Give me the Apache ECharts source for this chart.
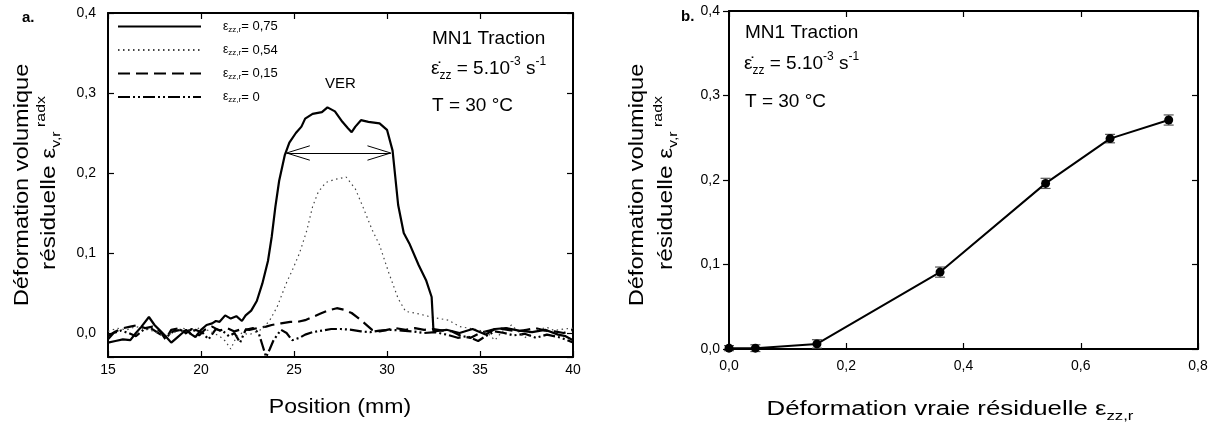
<!DOCTYPE html>
<html><head><meta charset="utf-8">
<script src="https://cdn.jsdelivr.net/npm/echarts@6/dist/echarts.min.js"></script>
<style>html,body{margin:0;padding:0;background:#fff}#c{width:1220px;height:430px}</style>
</head><body><div id="c"></div>
<script>
const FONT = '"Liberation Sans", Arial, Helvetica, sans-serif';

// ---- Panel a : profiles of residual volume strain vs position (mm) ----
const legendLabels = ['0,75', '0,54', '0,15', '0'];
const curve075 = [[15.0,-0.012],[15.4,-0.010],[15.8,-0.008],[16.2,-0.009],[16.5,0.000],[16.8,0.008],[17.2,0.020],[17.5,0.010],[17.8,0.003],[18.1,-0.004],[18.4,-0.012],[18.7,-0.006],[19.0,0.000],[19.2,0.004],[19.5,-0.002],[19.7,-0.005],[20.0,0.004],[20.3,0.010],[20.6,0.012],[20.8,0.015],[21.0,0.014],[21.3,0.022],[21.6,0.018],[21.9,0.021],[22.2,0.015],[22.4,0.022],[22.7,0.028],[23.0,0.040],[23.3,0.062],[23.6,0.090],[23.8,0.120],[24.0,0.158],[24.2,0.190],[24.5,0.222],[24.75,0.238],[25.1,0.250],[25.4,0.258],[25.6,0.268],[26.0,0.274],[26.5,0.276],[26.8,0.282],[27.2,0.277],[27.6,0.264],[27.9,0.256],[28.1,0.251],[28.3,0.258],[28.6,0.266],[29.0,0.264],[29.6,0.262],[30.0,0.254],[30.3,0.228],[30.6,0.160],[30.9,0.125],[31.2,0.112],[31.7,0.085],[32.1,0.066],[32.4,0.045],[32.5,0.002],[33.2,0.004],[33.9,0.000],[34.6,0.005],[35.3,-0.002],[35.8,0.005],[36.4,0.006],[37.1,0.003],[37.8,0.001],[38.5,0.004],[39.2,-0.002],[39.6,-0.004],[40.0,-0.009]];
const curve054 = [[15.0,0.002],[15.5,0.006],[16.0,0.004],[16.5,0.008],[17.0,0.005],[17.5,0.002],[18.0,-0.004],[18.5,0.000],[19.0,0.006],[19.5,0.003],[20.0,0.007],[20.5,0.002],[21.0,-0.004],[21.3,-0.010],[21.6,-0.020],[21.9,-0.005],[22.2,0.000],[22.6,-0.002],[23.0,0.002],[23.3,0.005],[23.7,0.016],[24.1,0.033],[24.6,0.063],[24.9,0.078],[25.3,0.100],[25.7,0.129],[26.0,0.158],[26.3,0.176],[26.7,0.188],[27.2,0.192],[27.8,0.195],[28.3,0.180],[28.7,0.158],[29.2,0.129],[29.6,0.110],[30.1,0.075],[30.6,0.043],[31.0,0.027],[31.7,0.024],[32.2,0.021],[32.6,0.019],[33.3,0.016],[33.9,0.008],[34.4,0.006],[34.9,0.004],[35.4,0.000],[35.8,-0.009],[36.2,0.002],[36.7,0.010],[37.0,0.003],[37.4,-0.006],[37.8,0.000],[38.1,0.004],[38.6,0.007],[39.0,0.003],[39.5,0.005],[40.0,0.006]];
const curve015 = [[15.0,-0.004],[15.4,0.002],[15.8,0.006],[16.2,0.008],[16.6,0.010],[17.0,0.006],[17.4,0.008],[17.8,0.002],[18.1,-0.008],[18.4,0.004],[18.8,0.006],[19.2,0.000],[19.5,0.005],[19.9,-0.003],[20.2,0.004],[20.6,0.008],[21.0,0.003],[21.4,0.006],[21.8,0.002],[22.2,0.005],[22.6,0.004],[23.0,0.006],[23.5,0.008],[23.8,0.010],[24.3,0.012],[24.8,0.014],[25.2,0.014],[25.6,0.016],[26.0,0.020],[26.4,0.024],[26.8,0.028],[27.3,0.031],[27.7,0.029],[28.1,0.025],[28.5,0.018],[28.8,0.012],[29.2,0.004],[29.6,0.002],[30.0,0.004],[30.5,0.006],[31.0,0.004],[31.5,0.006],[32.0,0.004],[32.5,0.005],[33.0,0.003],[33.5,0.002],[34.0,-0.004],[34.5,-0.006],[35.0,0.000],[35.5,0.003],[36.0,0.006],[36.5,0.004],[37.0,0.002],[37.5,0.004],[38.0,0.006],[38.5,0.003],[39.0,0.002],[39.5,0.000],[40.0,0.004]];
const curve000 = [[15.0,-0.008],[15.3,0.000],[15.7,0.003],[16.1,0.000],[16.5,-0.004],[16.9,0.004],[17.3,0.006],[17.7,0.000],[18.1,-0.006],[18.5,0.002],[18.9,0.004],[19.3,-0.002],[19.7,0.004],[20.1,0.000],[20.4,-0.008],[20.8,0.005],[21.2,0.002],[21.5,-0.004],[21.8,0.000],[22.1,-0.012],[22.4,0.004],[22.8,0.006],[23.1,0.000],[23.3,-0.015],[23.5,-0.030],[23.7,-0.020],[23.9,-0.009],[24.3,0.004],[24.6,0.000],[24.9,-0.009],[25.3,-0.006],[25.6,-0.002],[26.0,0.001],[26.5,0.003],[27.0,0.005],[27.5,0.005],[28.1,0.004],[28.6,0.002],[29.1,0.001],[29.6,0.003],[30.2,0.004],[30.8,0.003],[31.4,0.002],[32.0,0.000],[32.6,0.001],[33.2,-0.002],[33.8,-0.006],[34.3,-0.004],[34.9,-0.010],[35.3,-0.004],[35.8,0.002],[36.3,0.000],[36.8,-0.003],[37.4,-0.001],[38.0,-0.006],[38.6,-0.002],[39.2,-0.005],[39.6,-0.008],[40.0,-0.012]];
// VER annotation (double arrow), in data units
const verArrow = { x1: 24.6, x2: 30.2, y: 0.225, armDx: 1.25, armDy: 0.009 };

// ---- Panel b : residual volume strain vs residual true strain ----
const strainB = [0, 0.045, 0.15, 0.36, 0.54, 0.65, 0.75];
const volB    = [0.001, 0.001, 0.006, 0.091, 0.196, 0.249, 0.271];
const errB    = [0.003, 0.004, 0.005, 0.006, 0.006, 0.005, 0.006];

const comma1 = v => v.toFixed(1).replace('.', ',');
const yLabA = v => (Math.abs(v * 10 - Math.round(v * 10)) < 1e-6 ? comma1(Math.abs(v) < 1e-9 ? 0 : v) : '');

const axisLineS = { show: true, onZero: false, lineStyle: { color: '#000', width: 2 } };
const tickIn = { show: true, inside: true, length: 6, lineStyle: { color: '#000', width: 1.2 } };
const tickOut = { show: true, inside: false, length: 6, lineStyle: { color: '#000', width: 1.2 } };
const labS = { color: '#000', fontSize: 14, fontFamily: FONT };

const lineStyles = [
  { color: '#000', width: 2.2, type: 'solid' },
  { color: '#444', width: 1.2, type: [1.5, 3.5] },
  { color: '#000', width: 2.2, type: [12, 6] },
  { color: '#000', width: 2.2, type: [12, 3, 2, 3, 2, 3] }
];
const curves = [curve075, curve054, curve015, curve000];

const chart = echarts.init(document.getElementById('c'), null, { renderer: 'canvas' });

const seriesA = curves.map((d, i) => ({
  name: legendLabels[i], type: 'line', xAxisIndex: 0, yAxisIndex: 0,
  data: d, symbol: 'none', showSymbol: false, smooth: false,
  lineStyle: lineStyles[i], itemStyle: { color: lineStyles[i].color },
  z: 5 - i, animation: false
}));
const va = verArrow;
seriesA[0].markLine = {
  silent: true, symbol: 'none', animation: false,
  label: { show: false },
  lineStyle: { color: '#000', width: 1, type: 'solid' },
  data: [
    [{ coord: [va.x1, va.y] }, { coord: [va.x2, va.y] }],
    [{ coord: [va.x1, va.y] }, { coord: [va.x1 + va.armDx, va.y + va.armDy] }],
    [{ coord: [va.x1, va.y] }, { coord: [va.x1 + va.armDx, va.y - va.armDy] }],
    [{ coord: [va.x2, va.y] }, { coord: [va.x2 - va.armDx, va.y + va.armDy] }],
    [{ coord: [va.x2, va.y] }, { coord: [va.x2 - va.armDx, va.y - va.armDy] }]
  ]
};

const txt = (o) => Object.assign({ type: 'text', silent: true }, o);
const richStrain = {
  e: { fontSize: 19, fontFamily: FONT, fill: '#000', lineHeight: 26 },
  n: { fontSize: 19, fontFamily: FONT, fill: '#000', lineHeight: 26 },
  s: { fontSize: 12, fontFamily: FONT, fill: '#000', lineHeight: 12, verticalAlign: 'bottom' },
  p: { fontSize: 12, fontFamily: FONT, fill: '#000', lineHeight: 12, verticalAlign: 'top' }
};
const richName = {
  m: { fontSize: 20, fontFamily: FONT, fill: '#000', lineHeight: 28 },
  sub: { fontSize: 13, fontFamily: FONT, fill: '#000', lineHeight: 14, verticalAlign: 'bottom' },
  sup: { fontSize: 13, fontFamily: FONT, fill: '#000', lineHeight: 14, verticalAlign: 'top' }
};
const yNameLine1 = '{m|Déformation volumique}';
const yNameLine2 = '{m|résiduelle ε}{sub|v,r}{sup| radx}';
function yNameTexts(cx1, cx2, cy1, cy2) {
  return [
    txt({ x: cx1, y: cy1, rotation: Math.PI / 2, scaleX: 1.18, style: { text: yNameLine1, rich: richName, align: 'center', verticalAlign: 'middle' } }),
    txt({ x: cx2, y: cy2, rotation: Math.PI / 2, scaleX: 1.22, style: { text: yNameLine2, rich: richName, align: 'center', verticalAlign: 'middle' } })
  ];
}

const option = {
  backgroundColor: '#fff',
  animation: false,
  textStyle: { fontFamily: FONT },
  grid: [
    { left: 108, top: 13, width: 465, height: 344 },
    { left: 729, top: 11, width: 469, height: 338 }
  ],
  legend: {
    data: legendLabels, orient: 'vertical', left: 117, top: 20, padding: 0,
    itemWidth: 83, itemHeight: 14, itemGap: 10, selectedMode: false,
    itemStyle: { color: 'rgba(0,0,0,0)', borderColor: 'rgba(0,0,0,0)', borderWidth: 0, opacity: 0 },
    formatter: n => '{e|ε}{s|zz,r}{t|= ' + n + '}',
    textStyle: {
      padding: [0, 0, 0, 17],
      rich: {
        e: { fontSize: 12, fontFamily: FONT, color: '#000', lineHeight: 14 },
        s: { fontSize: 8, fontFamily: FONT, color: '#000', verticalAlign: 'bottom', lineHeight: 9 },
        t: { fontSize: 13, fontFamily: FONT, color: '#000', lineHeight: 14 }
      }
    }
  },
  xAxis: [
    { gridIndex: 0, type: 'value', min: 15, max: 40, interval: 5, position: 'bottom',
      axisLine: axisLineS, axisTick: tickIn, splitLine: { show: false },
      axisLabel: Object.assign({ margin: 6 }, labS) },
    { gridIndex: 0, type: 'value', min: 15, max: 40, interval: 5, position: 'top',
      axisLine: axisLineS, axisTick: tickIn, splitLine: { show: false }, axisLabel: { show: false } },
    { gridIndex: 1, type: 'value', min: 0, max: 0.8, interval: 0.2, position: 'bottom',
      axisLine: axisLineS, axisTick: tickIn, splitLine: { show: false },
      axisLabel: Object.assign({ margin: 10, formatter: comma1 }, labS) },
    { gridIndex: 1, type: 'value', min: 0, max: 0.8, interval: 0.2, position: 'top',
      axisLine: axisLineS, axisTick: tickIn, splitLine: { show: false }, axisLabel: { show: false } }
  ],
  yAxis: [
    { gridIndex: 0, type: 'value', min: -0.03, max: 0.4, splitNumber: 5, position: 'left',
      axisLine: axisLineS, axisTick: tickIn, splitLine: { show: false },
      axisLabel: Object.assign({ margin: 12, formatter: yLabA, showMinLabel: true }, labS) },
    { gridIndex: 0, type: 'value', min: -0.03, max: 0.4, splitNumber: 5, position: 'right',
      axisLine: axisLineS, axisTick: tickIn, splitLine: { show: false }, axisLabel: { show: false } },
    { gridIndex: 1, type: 'value', min: 0, max: 0.4, interval: 0.1, position: 'left',
      axisLine: axisLineS, axisTick: tickOut, splitLine: { show: false },
      axisLabel: Object.assign({ margin: 9, formatter: comma1 }, labS) },
    { gridIndex: 1, type: 'value', min: 0, max: 0.4, interval: 0.1, position: 'right',
      axisLine: axisLineS, axisTick: tickIn, splitLine: { show: false }, axisLabel: { show: false } }
  ],
  series: seriesA.concat([
    {
      type: 'custom', xAxisIndex: 2, yAxisIndex: 2, z: 3, clip: false,
      data: strainB.map((x, i) => [x, volB[i], errB[i]]),
      renderItem: (params, api) => {
        const x = api.value(0), y = api.value(1), e = api.value(2);
        const t = api.coord([x, y + e]), b = api.coord([x, y - e]);
        const hw = 5, st = { stroke: '#555', lineWidth: 1.2 };
        return { type: 'group', children: [
          { type: 'line', shape: { x1: t[0], y1: t[1], x2: b[0], y2: b[1] }, style: st },
          { type: 'line', shape: { x1: t[0] - hw, y1: t[1], x2: t[0] + hw, y2: t[1] }, style: st },
          { type: 'line', shape: { x1: b[0] - hw, y1: b[1], x2: b[0] + hw, y2: b[1] }, style: st }
        ] };
      }
    },
    {
      type: 'line', xAxisIndex: 2, yAxisIndex: 2, z: 4, clip: false,
      data: strainB.map((x, i) => [x, volB[i]]),
      symbol: 'circle', symbolSize: 9, showSymbol: true,
      lineStyle: { color: '#000', width: 2 }, itemStyle: { color: '#000' }
    }
  ]),
  graphic: [
    txt({ left: 22, top: 10, style: { text: 'a.', font: 'bold 15px ' + FONT, fill: '#000' } }),
    txt({ left: 681, top: 9, style: { text: 'b.', font: 'bold 15px ' + FONT, fill: '#000' } }),
    txt({ left: 325, top: 76, style: { text: 'VER', font: '15px ' + FONT, fill: '#000' } }),
    txt({ left: 432, top: 29, style: { text: 'MN1 Traction', font: '19px ' + FONT, fill: '#000' } }),
    txt({ left: 431, top: 56, style: { text: '{e|ε̇}{s|zz}{n| = 5.10}{p|-3}{n| s}{p|-1}', rich: richStrain } }),
    txt({ left: 432, top: 96, style: { text: 'T = 30 °C', font: '19px ' + FONT, fill: '#000' } }),
    txt({ left: 745, top: 23, style: { text: 'MN1 Traction', font: '19px ' + FONT, fill: '#000' } }),
    txt({ left: 744, top: 51, style: { text: '{e|ε̇}{s|zz}{n| = 5.10}{p|-3}{n| s}{p|-1}', rich: richStrain } }),
    txt({ left: 745, top: 92, style: { text: 'T = 30 °C', font: '19px ' + FONT, fill: '#000' } }),
    // axis titles (stretched horizontally like the original figure)
    txt({ x: 340, y: 407, scaleX: 1.1, style: { text: 'Position (mm)', font: '21px ' + FONT, fill: '#000', align: 'center', verticalAlign: 'middle' } }),
    txt({ x: 950, y: 409, scaleX: 1.29, style: { text: '{m|Déformation vraie résiduelle ε}{sub|zz,r}', rich: richName, align: 'center', verticalAlign: 'middle' } })
  ].concat(yNameTexts(22, 49, 185, 183), yNameTexts(637, 666, 185, 183))
};
chart.setOption(option);
</script>
</body></html>
